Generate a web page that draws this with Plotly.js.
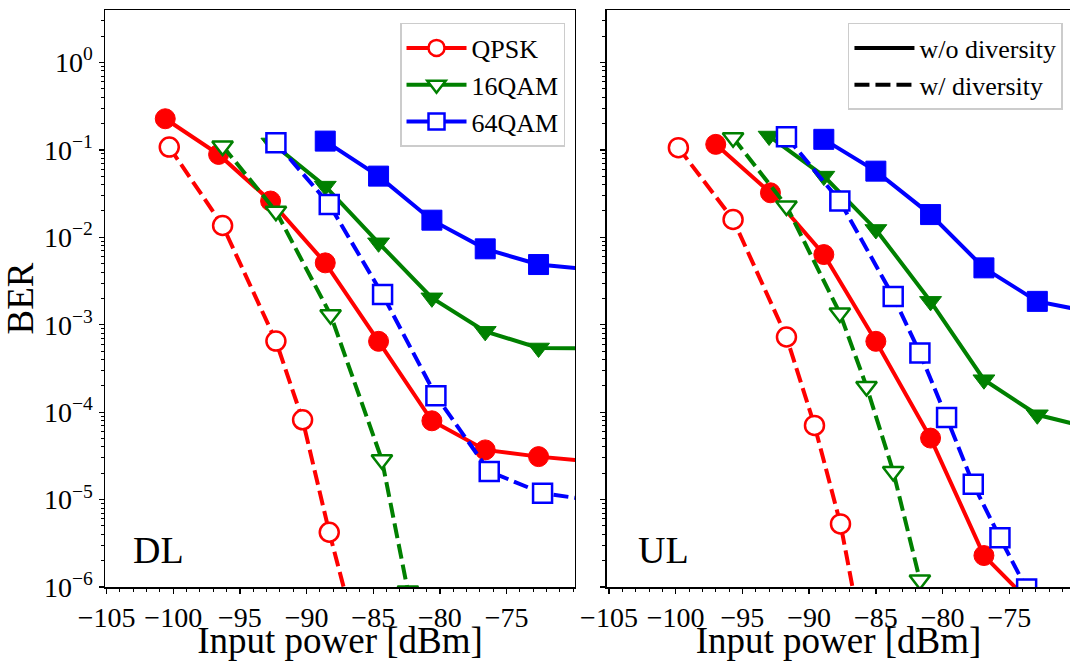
<!DOCTYPE html>
<html>
<head>
<meta charset="utf-8">
<script src="https://cdn.plot.ly/plotly-3.0.1.min.js"></script>
<style>html,body{margin:0;padding:0;background:#fff;}#chart{width:1070px;height:661px;}</style>
</head>
<body>
<div id="chart"></div>
<script>
// ---------- DL (downlink) ----------
var dlQpskWoX = [-100.6, -96.6, -92.7, -88.6, -84.6, -80.6, -76.6, -72.6, -68.6];
var dlQpskWoY = [0.227, 0.0887, 0.026, 0.0051, 6.46e-4, 7.96e-5, 3.7e-5, 3.1e-5, 2.72e-5];
var dlQpskWX = [-100.3, -96.3, -92.3, -90.3, -88.3, -86.3];
var dlQpskWY = [0.1076, 0.01365, 6.5e-4, 8.18e-5, 4.23e-6, 2.9e-7];
var dl16WoX = [-92.6, -88.6, -84.6, -80.6, -76.6, -72.6, -68.6];
var dl16WoY = [0.12, 0.0385, 0.00865, 0.00203, 8.4e-4, 5.42e-4, 5.35e-4];
var dl16WX = [-96.3, -92.3, -88.2, -84.35, -82.4];
var dl16WY = [0.1106, 0.0199, 0.0013, 2.85e-5, 9.0e-7];
var dl64WoX = [-88.6, -84.6, -80.6, -76.6, -72.6, -68.6];
var dl64WoY = [0.126, 0.0501, 0.0157, 0.00738, 0.00488, 0.00427];
var dl64WX = [-92.3, -88.3, -84.3, -80.3, -76.3, -72.3, -68.3];
var dl64WY = [0.121, 0.0238, 0.00221, 1.54e-4, 2.1e-5, 1.18e-5, 9.7e-6];

// ---------- UL (uplink) ----------
var ulQpskWoX = [-97.0, -92.9, -88.9, -85.0, -80.9, -76.9, -72.9];
var ulQpskWoY = [0.1156, 0.0323, 0.00635, 6.46e-4, 5.05e-5, 2.29e-6, 5.5e-7];
var ulQpskWX = [-99.8, -95.7, -91.7, -89.6, -87.65, -85.65];
var ulQpskWY = [0.106, 0.016, 7.24e-4, 7.05e-5, 5.27e-6, 1.3e-7];
var ul16WoX = [-93.0, -88.9, -85.0, -80.9, -76.9, -72.9, -68.9];
var ul16WoY = [0.144, 0.0501, 0.0123, 0.00185, 2.35e-4, 9.33e-5, 6.6e-5];
var ul16WX = [-95.7, -91.7, -87.7, -85.7, -83.7, -81.7];
var ul16WY = [0.138, 0.0228, 0.00136, 1.97e-4, 2.1e-5, 1.2e-6];
var ul64WoX = [-88.9, -85.0, -80.9, -76.9, -72.9, -68.9];
var ul64WoY = [0.132, 0.0571, 0.0182, 0.00447, 0.00185, 0.0014];
var ul64WX = [-91.7, -87.7, -83.7, -81.7, -79.7, -77.7, -75.7, -73.7];
var ul64WY = [0.1416, 0.026, 0.00211, 4.75e-4, 8.69e-5, 1.5e-5, 3.67e-6, 9.5e-7];

// ---------- labels ----------
var modLabels = ['QPSK', '16QAM', '64QAM'];
var divLabels = ['w/o diversity', 'w/ diversity'];
var panelLabels = ['DL', 'UL'];
var xTickVals = [-105, -100, -95, -90, -85, -80, -75];
var yTickVals = [1e-6, 1e-5, 1e-4, 1e-3, 1e-2, 1e-1, 1];
var yTickText = ['10<sup>\u22126</sup>', '10<sup>\u22125</sup>', '10<sup>\u22124</sup>', '10<sup>\u22123</sup>', '10<sup>\u22122</sup>', '10<sup>\u22121</sup>', '10<sup>0</sup>'];

var FONT = 'Liberation Serif, Times New Roman, serif';
var colors = ['#ff0000', '#008000', '#0000ff'];
var symbols = ['circle', 'triangle-down', 'square'];
var sizes = [20, 19, 20];
var LW = 4;
var DASH = '15px,6px';

function solid(x, y, i, xa, ya) {
  return {x: x, y: y, xaxis: xa, yaxis: ya, type: 'scatter', mode: 'lines+markers', showlegend: false,
    line: {color: colors[i], width: LW},
    marker: {symbol: symbols[i], size: sizes[i], color: colors[i], line: {color: colors[i], width: 1}},
    hoverinfo: 'x+y'};
}
function dashed(x, y, i, xa, ya) {
  return {x: x, y: y, xaxis: xa, yaxis: ya, type: 'scatter', mode: 'lines+markers', showlegend: false,
    line: {color: colors[i], width: LW, dash: DASH},
    marker: {symbol: symbols[i], size: sizes[i] - 1, color: '#ffffff', line: {color: colors[i], width: 2.5}},
    hoverinfo: 'x+y'};
}

var data = [
  solid(dlQpskWoX, dlQpskWoY, 0, 'x', 'y'),
  dashed(dlQpskWX, dlQpskWY, 0, 'x', 'y'),
  solid(dl16WoX, dl16WoY, 1, 'x', 'y'),
  dashed(dl16WX, dl16WY, 1, 'x', 'y'),
  solid(dl64WoX, dl64WoY, 2, 'x', 'y'),
  dashed(dl64WX, dl64WY, 2, 'x', 'y'),
  solid(ulQpskWoX, ulQpskWoY, 0, 'x2', 'y2'),
  dashed(ulQpskWX, ulQpskWY, 0, 'x2', 'y2'),
  solid(ul16WoX, ul16WoY, 1, 'x2', 'y2'),
  dashed(ul16WX, ul16WY, 1, 'x2', 'y2'),
  solid(ul64WoX, ul64WoY, 2, 'x2', 'y2'),
  dashed(ul64WX, ul64WY, 2, 'x2', 'y2')
];

// legend entries (modulation)
modLabels.forEach(function (name, i) {
  data.push({x: [null], y: [null], xaxis: 'x', yaxis: 'y', type: 'scatter', mode: 'lines+markers', name: name,
    legend: 'legend', legendgroup: 'm' + i, showlegend: true,
    line: {color: colors[i], width: LW},
    marker: {symbol: symbols[i], size: 20, color: '#ffffff', line: {color: colors[i], width: 2.5}}});
});
// legend entries (diversity)
divLabels.forEach(function (name, i) {
  data.push({x: [null], y: [null], xaxis: 'x2', yaxis: 'y2', type: 'scatter', mode: 'lines', name: name,
    legend: 'legend2', legendgroup: 'd' + i, showlegend: true,
    line: {color: '#000000', width: LW, dash: i === 0 ? 'solid' : DASH}});
});

function xAxis(domain, range, anchor) {
  return {domain: domain, range: range, anchor: anchor, tickmode: 'array', tickvals: xTickVals,
    ticks: 'outside', ticklen: 5, tickwidth: 1.3, tickcolor: '#000',
    minor: {tick0: -105, dtick: 1, ticks: 'outside', ticklen: 3, tickwidth: 1, tickcolor: '#000', showgrid: false},
    showline: true, mirror: true, linecolor: '#000', linewidth: 1.5,
    showgrid: false, zeroline: false,
    tickfont: {family: FONT, size: 28, color: '#000'},
    title: {text: 'Input power [dBm]', font: {family: FONT, size: 37, color: '#000'}, standoff: 2}};
}
function yAxis(anchor, showLabels, mirror) {
  return {type: 'log', range: [-6, 0.6], anchor: anchor,
    tickmode: 'array', tickvals: yTickVals, ticktext: yTickText, showticklabels: showLabels,
    ticks: 'outside', ticklen: 5, tickwidth: 1.3, tickcolor: '#000',
    minor: {dtick: 'D1', ticks: 'outside', ticklen: 3, tickwidth: 1, tickcolor: '#000', showgrid: false},
    showline: true, mirror: mirror, linecolor: '#000', linewidth: 1.5,
    showgrid: false, zeroline: false,
    tickfont: {family: FONT, size: 28, color: '#000'}};
}

var ya = yAxis('x', true, true);
ya.title = {text: 'BER', font: {family: FONT, size: 37, color: '#000'}, standoff: 6};
var ya2 = yAxis('x2', false, false);
ya2.matches = 'y';

var legendBase = {xanchor: 'right', yanchor: 'top', bgcolor: '#ffffff', bordercolor: '#cccccc', borderwidth: 1.5,
  font: {family: FONT, size: 26, color: '#000'}, traceorder: 'grouped', tracegroupgap: 0, itemwidth: 60};

var layout = {
  width: 1070, height: 661,
  margin: {l: 105, r: 0, t: 10, b: 74},
  paper_bgcolor: '#ffffff', plot_bgcolor: '#ffffff',
  font: {family: FONT, color: '#000'},
  xaxis: xAxis([0, 0.487], [-105.12, -69.87], 'y'),
  yaxis: ya,
  xaxis2: xAxis([0.5202, 1], [-105.15, -70.45], 'y2'),
  yaxis2: ya2,
  legend: Object.assign({}, legendBase, {x: 0.4767, y: 0.9775}),
  legend2: Object.assign({}, legendBase, {x: 0.9927, y: 0.9775}),
  annotations: [
    {text: panelLabels[0], xref: 'x domain', yref: 'y domain', x: 0.055, y: 0.064, xanchor: 'left', yanchor: 'middle',
      showarrow: false, font: {family: FONT, size: 38, color: '#000'}},
    {text: panelLabels[1], xref: 'x2 domain', yref: 'y2 domain', x: 0.062, y: 0.064, xanchor: 'left', yanchor: 'middle',
      showarrow: false, font: {family: FONT, size: 38, color: '#000'}}
  ]
};

Plotly.newPlot('chart', data, layout, {displayModeBar: false, staticPlot: true});
</script>
</body>
</html>
